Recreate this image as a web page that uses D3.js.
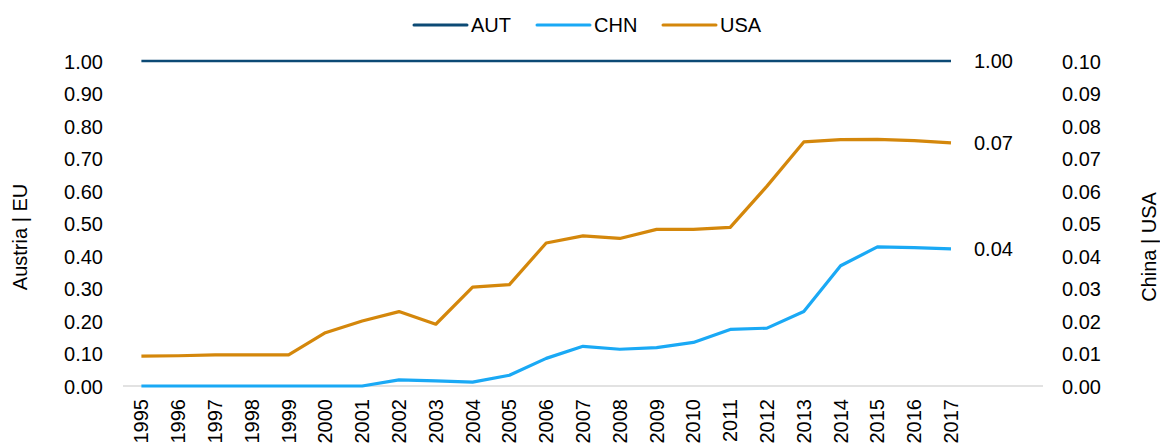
<!DOCTYPE html>
<html>
<head>
<meta charset="utf-8">
<script src="https://cdn.jsdelivr.net/npm/d3@7"></script>
<style>
  body { margin: 0; background: #fff; }
  text { font-family: "Liberation Sans", Arial, sans-serif; fill: #000; }
</style>
</head>
<body>
<svg id="chart" width="1160" height="443"></svg>
<script>
const YEARS = ['1995', '1996', '1997', '1998', '1999', '2000', '2001', '2002', '2003', '2004', '2005', '2006',
  '2007', '2008', '2009', '2010', '2011', '2012', '2013', '2014', '2015', '2016', '2017'];

// left axis (Austria | EU)
const AUT = [1, 1, 1, 1, 1, 1, 1, 1, 1, 1, 1, 1, 1, 1, 1, 1, 1, 1, 1, 1, 1, 1, 1];

// right axis (China | USA)
const CHN = [0, 0, 0, 0, 0, 0, 0, 0.0019, 0.0016, 0.0012, 0.0033, 0.0085, 0.0122, 0.0113, 0.0118, 0.0134,
  0.0174, 0.0178, 0.0229, 0.037, 0.0428, 0.0426, 0.0422];
const USA = [0.0092, 0.0093, 0.0096, 0.0096, 0.0096, 0.0164, 0.02, 0.0229, 0.019, 0.0304, 0.0312, 0.044,
  0.0462, 0.0454, 0.0482, 0.0482, 0.0488, 0.0615, 0.0751, 0.0758, 0.0759, 0.0755, 0.0748];

const END_LABELS = ['1.00', '0.04', '0.07'];
const LEFT_TICKS = [0, 0.1, 0.2, 0.3, 0.4, 0.5, 0.6, 0.7, 0.8, 0.9, 1.0];
const RIGHT_TICKS = [0, 0.01, 0.02, 0.03, 0.04, 0.05, 0.06, 0.07, 0.08, 0.09, 0.1];

const series = [
  { name: 'AUT', values: AUT, axis: 'left', color: '#0c4a75', width: 2.5 },
  { name: 'CHN', values: CHN, axis: 'right', color: '#1aa9f5', width: 3.2 },
  { name: 'USA', values: USA, axis: 'right', color: '#d4870b', width: 3.2 }
];

const svg = d3.select('#chart');
const FS = 20;

// two blank slots after 2017 leave room for the end labels
const xScale = d3.scaleBand()
  .domain(YEARS.concat(['_a', '_b']))
  .range([123, 1043]);
const xc = (y) => xScale(y) + xScale.bandwidth() / 2;

const yLeft = d3.scaleLinear().domain([0, 1]).range([386, 61]);
const yRight = d3.scaleLinear().domain([0, 0.1]).range([386, 61]);

// baseline
svg.append('line')
  .attr('x1', 123).attr('x2', 1043)
  .attr('y1', yLeft(0)).attr('y2', yLeft(0))
  .attr('stroke', '#d9d9d9').attr('stroke-width', 1.5);

// left axis
const leftAxis = svg.append('g')
  .attr('transform', 'translate(103,0)')
  .call(d3.axisLeft(yLeft).tickValues(LEFT_TICKS).tickFormat(d3.format('.2f')).tickSize(0).tickPadding(0));
leftAxis.select('.domain').remove();
leftAxis.selectAll('text').style('font-size', FS + 'px').attr('dy', '0.35em');

// right axis
const rightAxis = svg.append('g')
  .attr('transform', 'translate(1062,0)')
  .call(d3.axisRight(yRight).tickValues(RIGHT_TICKS).tickFormat(d3.format('.2f')).tickSize(0).tickPadding(0));
rightAxis.select('.domain').remove();
rightAxis.selectAll('text').style('font-size', FS + 'px').attr('dy', '0.35em');

// x labels
svg.append('g')
  .selectAll('text')
  .data(YEARS)
  .enter()
  .append('text')
  .attr('transform', (d) => `translate(${xc(d)},399) rotate(-90)`)
  .attr('text-anchor', 'end')
  .attr('dy', '0.35em')
  .style('font-size', FS + 'px')
  .text((d) => d);

// axis titles
svg.append('text')
  .attr('transform', 'translate(20,237) rotate(-90)')
  .attr('text-anchor', 'middle')
  .attr('dy', '0.35em')
  .style('font-size', FS + 'px')
  .text('Austria | EU');
svg.append('text')
  .attr('transform', 'translate(1149,247) rotate(-90)')
  .attr('text-anchor', 'middle')
  .attr('dy', '0.35em')
  .style('font-size', FS + 'px')
  .text('China | USA');

// lines
series.forEach((s, i) => {
  const yS = s.axis === 'left' ? yLeft : yRight;
  const line = d3.line()
    .x((d, j) => xc(YEARS[j]))
    .y((d) => yS(d));
  svg.append('path')
    .datum(s.values)
    .attr('fill', 'none')
    .attr('stroke', s.color)
    .attr('stroke-width', s.width)
    .attr('stroke-linejoin', 'round')
    .attr('d', line);
  const last = s.values[s.values.length - 1];
  svg.append('text')
    .attr('x', xc(YEARS[YEARS.length - 1]) + 23)
    .attr('y', yS(last))
    .attr('dy', '0.35em')
    .style('font-size', FS + 'px')
    .text(END_LABELS[i]);
});

// legend
const legendX = [414, 537, 663];
const legend = svg.append('g');
series.forEach((s, i) => {
  legend.append('line')
    .attr('x1', legendX[i]).attr('x2', legendX[i] + 53)
    .attr('y1', 25).attr('y2', 25)
    .attr('stroke', s.color).attr('stroke-width', 3)
    .attr('stroke-linecap', 'round');
  legend.append('text')
    .attr('x', legendX[i] + 57)
    .attr('y', 25)
    .attr('dy', '0.35em')
    .style('font-size', FS + 'px')
    .text(s.name);
});
</script>
</body>
</html>
